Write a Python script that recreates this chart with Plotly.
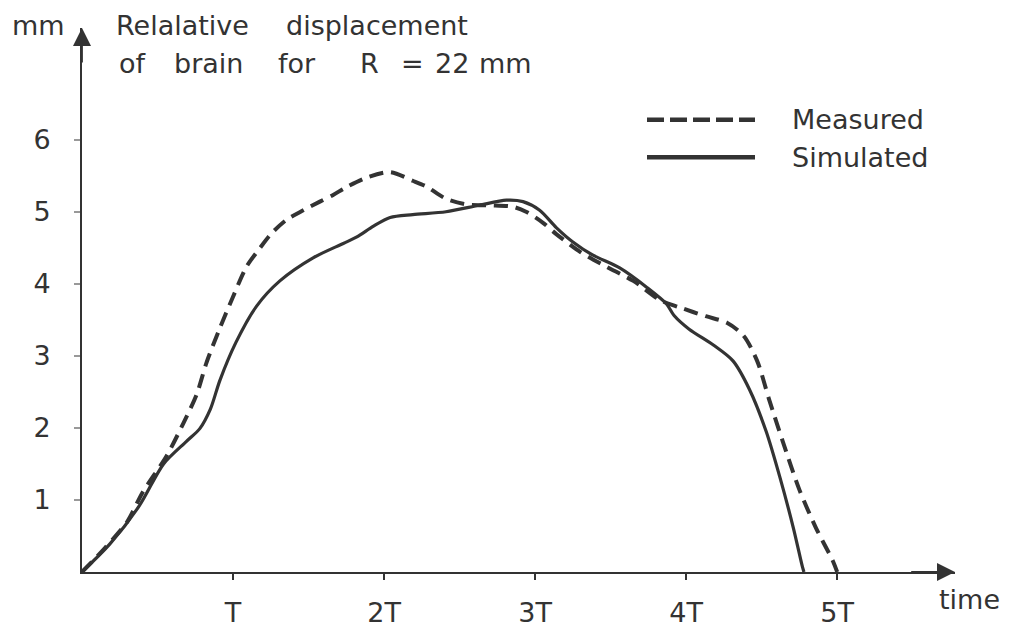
import plotly.graph_objects as go

# ---- data (time in units of T, displacement in mm) ----
measured_t = [0, 0.15, 0.30, 0.40, 0.56, 0.67, 0.76, 0.825, 0.91, 1.00, 1.09, 1.18, 1.255, 1.355,
              1.465, 1.575, 1.66, 1.75, 1.88, 2.04, 2.19, 2.28, 2.41, 2.55, 2.70, 2.85, 2.94,
              3.05, 3.14, 3.30, 3.47, 3.65, 3.83, 3.96, 4.13, 4.27, 4.38, 4.47, 4.55, 4.64,
              4.75, 4.86, 4.97, 5.00]
measured_mm = [0, 0.33, 0.70, 1.10, 1.61, 2.06, 2.47, 2.91, 3.37, 3.82, 4.24, 4.50, 4.70, 4.89,
               5.02, 5.14, 5.23, 5.34, 5.47, 5.55, 5.43, 5.35, 5.18, 5.10, 5.09, 5.07, 5.00,
               4.85, 4.69, 4.44, 4.24, 4.04, 3.77, 3.67, 3.55, 3.46, 3.28, 2.93, 2.39, 1.81,
               1.14, 0.61, 0.16, 0]

simulated_t = [0, 0.185, 0.38, 0.54, 0.69, 0.78, 0.85, 0.913, 1.02, 1.156, 1.31, 1.53, 1.73,
               1.82, 1.93, 2.04, 2.19, 2.41, 2.63, 2.81, 2.92, 3.03, 3.14, 3.25, 3.38, 3.56,
               3.74, 3.87, 3.92, 4.02, 4.18, 4.31, 4.42, 4.53, 4.62, 4.71, 4.77, 4.78]
simulated_mm = [0, 0.39, 0.92, 1.50, 1.81, 1.99, 2.26, 2.66, 3.19, 3.69, 4.04, 4.36, 4.56,
                4.65, 4.80, 4.92, 4.96, 5.00, 5.09, 5.16, 5.14, 5.02, 4.78, 4.58, 4.40, 4.22,
                3.95, 3.72, 3.56, 3.37, 3.15, 2.93, 2.53, 1.95, 1.32, 0.61, 0.07, 0]

x_tickvals = [1, 2, 3, 4, 5]
x_ticktext = ["T", "2T", "3T", "4T", "5T"]
y_tickvals = [1, 2, 3, 4, 5, 6]
y_ticktext = ["1", "2", "3", "4", "5", "6"]

series_names = ["Measured", "Simulated"]

# ---- layout geometry ----
W, H = 1011, 640
L, R, T, B = 82, 56, 28, 48
PW, PH = W - L - R, H - T - B
X_MAX, Y_MAX = 5.78, 7.55

INK = "#333333"
FONT = "DejaVu Sans"
FS = 27


def px(xp):
    return (xp - L) / PW


def py(yp):
    return (H - B - yp) / PH


def label(text, x_px, y_px, anchor="left"):
    return dict(x=px(x_px), y=py(y_px), xref="paper", yref="paper", text=text, showarrow=False,
                xanchor=anchor, yanchor="middle", font=dict(size=FS, color=INK, family=FONT))


fig = go.Figure()
fig.add_trace(go.Scatter(x=measured_t, y=measured_mm, mode="lines", name=series_names[0],
                         line=dict(color=INK, width=4, dash="14px,8px", shape="spline", smoothing=0.8),
                         showlegend=False))
fig.add_trace(go.Scatter(x=simulated_t, y=simulated_mm, mode="lines", name=series_names[1],
                         line=dict(color=INK, width=3.2, shape="spline", smoothing=0.8),
                         showlegend=False))

annotations = [
    # axis arrow heads
    dict(x=X_MAX, y=0, ax=X_MAX - 0.3, ay=0, xref="x", yref="y", axref="x", ayref="y",
         showarrow=True, arrowhead=2, arrowsize=2, arrowwidth=1.8, arrowcolor=INK, text=""),
    dict(x=0, y=Y_MAX, ax=0, ay=Y_MAX - 0.5, xref="x", yref="y", axref="x", ayref="y",
         showarrow=True, arrowhead=2, arrowsize=2, arrowwidth=1.8, arrowcolor=INK, text=""),
    # texts
    label("mm", 10, 25),
    label("Relalative", 114, 25),
    label("displacement", 284, 25),
    label("of", 117, 65),
    label("brain", 172, 65),
    label("for", 276, 65),
    label("R", 358, 65),
    label("=", 399, 65),
    label("22", 433, 65),
    label("mm", 477, 65),
    label("time", 937, 620),
    label(series_names[0], 790, 123),
    label(series_names[1], 790, 162),
]

shapes = [
    dict(type="line", xref="paper", yref="paper", x0=px(647), x1=px(755), y0=py(123), y1=py(123),
         line=dict(color=INK, width=4.5, dash="17px,6px")),
    dict(type="line", xref="paper", yref="paper", x0=px(647), x1=px(755), y0=py(162), y1=py(162),
         line=dict(color=INK, width=4.5)),
]

fig.update_layout(
    width=W, height=H,
    margin=dict(l=L, r=R, t=T, b=B, pad=0),
    paper_bgcolor="white", plot_bgcolor="white",
    showlegend=False,
    annotations=annotations,
    shapes=shapes,
    xaxis=dict(range=[0, X_MAX], showgrid=False, zeroline=False, showline=True, linecolor=INK,
               linewidth=2, tickvals=x_tickvals, ticktext=x_ticktext, ticks="outside", ticklen=6,
               tickwidth=1.5, tickcolor=INK, ticklabelstandoff=10,
               tickfont=dict(size=FS, color=INK, family=FONT)),
    yaxis=dict(range=[0, Y_MAX], showgrid=False, zeroline=False, showline=True, linecolor=INK,
               linewidth=2, tickvals=y_tickvals, ticktext=y_ticktext, ticks="outside", ticklen=6,
               tickwidth=1.5, tickcolor="#999999", ticklabelstandoff=18,
               tickfont=dict(size=FS, color=INK, family=FONT)),
)

fig.write_html("out.html")
